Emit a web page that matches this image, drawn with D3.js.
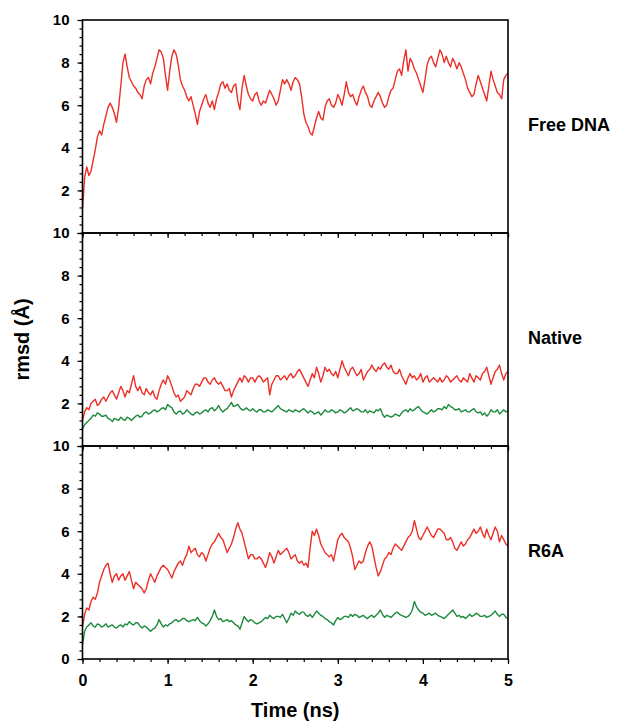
<!DOCTYPE html>
<html>
<head>
<meta charset="utf-8">
<script src="https://cdn.jsdelivr.net/npm/d3@7"></script>
<style>
  body { margin: 0; background: #fff; }
  svg { font-family: Arial, "Liberation Sans", sans-serif; }
  .axis text { font-weight: bold; fill: #000; }
  .axis line { stroke: #000; stroke-width: 1.2; }
  .frame { fill: none; stroke: #000; stroke-width: 1.6; }
  .trace { fill: none; stroke-width: 1.4; stroke-linejoin: round; }
  .label { font-weight: bold; fill: #000; }
</style>
</head>
<body>
<svg id="chart"></svg>
<script>
// sampling interval of the traces (ns)
const timeStep = 0.025;

const freeDnaRed = [
  1.1, 2.6, 3.1, 2.7, 2.9, 3.4, 3.9, 4.5, 4.8, 4.6, 5.1, 5.5, 5.9, 6.1, 5.9, 5.6, 5.2, 5.9, 6.9, 8.0,
  8.4, 7.8, 7.3, 7.1, 6.9, 6.8, 6.6, 6.5, 6.3, 6.9, 7.2, 7.3, 7.0, 7.5, 7.8, 8.2, 8.6, 8.5, 8.2, 7.4,
  6.7, 7.6, 8.3, 8.6, 8.4, 7.9, 7.2, 6.9, 6.7, 6.4, 6.2, 6.4, 6.0, 5.6, 5.1, 5.7, 6.0, 6.3, 6.5, 6.1,
  5.9, 6.2, 5.8, 6.3, 6.6, 7.0, 7.1, 6.8, 7.0, 6.7, 6.6, 6.9, 7.0, 6.2, 5.8, 6.8, 7.4, 6.9, 6.5, 6.3,
  6.2, 6.5, 6.6, 6.2, 6.0, 6.2, 6.1, 6.4, 6.7, 6.5, 6.3, 6.0, 6.2, 6.7, 7.2, 7.0, 7.2, 7.0, 6.7, 7.1,
  7.3, 7.2, 7.0, 6.4, 5.6, 5.2, 5.0, 4.7, 4.6, 5.0, 5.4, 5.7, 5.4, 5.3, 5.9, 6.2, 6.3, 6.0, 5.9, 6.1,
  6.5, 6.3, 6.0, 6.5, 7.1, 6.6, 6.4, 6.5, 6.2, 6.0, 6.4, 6.7, 6.9, 6.6, 6.4, 6.0, 5.9, 6.2, 6.4, 6.6,
  6.4, 6.1, 5.9, 6.0, 6.4, 6.7, 6.8, 7.2, 7.6, 7.7, 7.4, 8.1, 8.6, 7.6, 8.2, 8.0, 7.7, 7.5, 7.2, 6.9,
  6.6, 7.2, 7.9, 8.2, 8.3, 8.0, 7.8, 8.2, 8.6, 8.4, 8.0, 8.3, 8.0, 7.8, 8.2, 8.0, 7.7, 8.0, 7.8, 7.5,
  7.2, 6.8, 6.6, 6.4, 6.5, 7.0, 7.4, 7.1, 6.8, 6.5, 6.2, 6.9, 7.6, 7.2, 6.9, 6.6, 6.5, 6.3, 7.2, 7.4,
  7.5];

const nativeRed = [
  1.2, 1.6, 1.8, 1.7, 2.0, 2.1, 2.2, 1.9, 2.0, 2.2, 2.3, 2.1, 2.3, 2.5, 2.6, 2.4, 2.2, 2.5, 2.8, 2.6,
  2.3, 2.6, 2.5, 2.9, 3.3, 2.8, 2.6, 2.8, 2.5, 2.4, 2.7, 2.5, 2.4, 2.6, 2.3, 2.2, 2.6, 2.9, 3.1, 2.9,
  3.3, 3.1, 2.8, 2.5, 2.3, 2.4, 2.1, 2.2, 2.3, 2.6, 2.5, 2.4, 2.7, 2.9, 2.9, 2.8, 3.0, 3.2, 3.2, 3.0,
  2.9, 3.1, 3.2, 3.0, 2.9, 3.0, 2.8, 2.6, 2.6, 2.7, 2.3, 2.6, 2.8, 3.0, 3.2, 3.0, 3.3, 3.2, 3.0, 3.2,
  3.2, 3.0, 3.2, 3.3, 3.2, 3.0, 3.1, 3.2, 2.4, 2.9, 3.1, 3.3, 3.3, 3.1, 3.2, 3.3, 3.1, 3.3, 3.4, 3.2,
  3.3, 3.5, 3.6, 3.4, 3.2, 3.0, 2.8, 3.1, 3.4, 3.2, 3.7, 3.4, 3.0, 3.3, 3.7, 3.5, 3.6, 3.4, 3.3, 3.5,
  3.2, 3.6, 4.0, 3.7, 3.5, 3.3, 3.6, 3.7, 3.5, 3.3, 3.4, 3.6, 3.1, 3.3, 3.5, 3.6, 3.8, 3.6, 3.5, 3.7,
  3.6, 3.8, 3.9, 3.7, 3.6, 3.8, 3.5, 3.4, 3.4, 3.6, 3.3, 3.1, 2.9, 3.2, 3.4, 3.2, 3.3, 3.1, 3.2, 3.4,
  3.0, 3.2, 3.3, 3.0, 3.1, 3.2, 3.1, 3.0, 3.2, 3.0, 3.1, 3.3, 3.2, 3.0, 3.1, 3.2, 3.3, 3.1, 3.0, 3.2,
  3.1, 3.0, 3.4, 3.2, 3.0, 3.3, 3.2, 3.1, 3.4, 3.5, 3.7, 3.3, 2.9, 3.2, 3.5, 3.6, 3.8, 3.4, 3.1, 3.4,
  3.5];

const nativeGreen = [
  0.8, 1.0, 1.1, 1.2, 1.3, 1.45, 1.4, 1.55, 1.5, 1.4, 1.4, 1.45, 1.3, 1.25, 1.15, 1.3, 1.25, 1.2, 1.35, 1.25,
  1.2, 1.35, 1.3, 1.2, 1.3, 1.4, 1.45, 1.35, 1.4, 1.55, 1.6, 1.5, 1.55, 1.65, 1.7, 1.6, 1.65, 1.75, 1.8, 1.7,
  1.95, 1.85, 1.8, 1.6, 1.5, 1.6, 1.65, 1.5, 1.55, 1.7, 1.6, 1.5, 1.45, 1.55, 1.6, 1.5, 1.55, 1.65, 1.7, 1.6,
  1.75, 1.8, 1.65, 1.75, 1.9, 1.7, 1.6, 1.7, 1.75, 1.9, 2.05, 1.85, 1.9, 1.95, 1.8, 1.7, 1.7, 1.8, 1.7, 1.65,
  1.75, 1.65, 1.6, 1.7, 1.7, 1.6, 1.6, 1.7, 1.65, 1.6, 1.7, 1.8, 1.9, 1.75, 1.7, 1.65, 1.6, 1.7, 1.65, 1.6,
  1.7, 1.65, 1.6, 1.7, 1.75, 1.65, 1.55, 1.65, 1.6, 1.5, 1.55, 1.6, 1.45, 1.55, 1.7, 1.6, 1.6, 1.7, 1.65, 1.55,
  1.6, 1.7, 1.65, 1.55, 1.6, 1.7, 1.8, 1.65, 1.7, 1.75, 1.7, 1.6, 1.6, 1.7, 1.55, 1.65, 1.6, 1.55, 1.7, 1.65,
  1.75, 1.5, 1.35, 1.45, 1.4, 1.35, 1.4, 1.5, 1.45, 1.4, 1.55, 1.65, 1.7, 1.6, 1.75, 1.65, 1.7, 1.8, 1.85, 1.7,
  1.6, 1.55, 1.5, 1.6, 1.7, 1.6, 1.65, 1.75, 1.75, 1.7, 1.85, 1.75, 1.95, 1.85, 1.8, 1.7, 1.7, 1.75, 1.6, 1.65,
  1.7, 1.6, 1.6, 1.7, 1.75, 1.6, 1.55, 1.6, 1.45, 1.55, 1.4, 1.5, 1.7, 1.6, 1.6, 1.7, 1.5, 1.6, 1.7, 1.6,
  1.65];

const r6aRed = [
  1.5, 2.1, 2.4, 2.3, 2.7, 2.9, 2.8, 3.1, 3.6, 3.9, 4.2, 4.4, 4.5, 4.0, 3.6, 3.9, 4.0, 3.7, 3.9, 4.0,
  3.7, 3.9, 4.1, 3.7, 3.3, 3.6, 3.5, 3.4, 3.3, 3.1, 3.3, 3.7, 4.0, 3.8, 3.6, 3.9, 4.1, 4.3, 4.4, 4.3,
  4.2, 4.0, 3.8, 4.1, 4.3, 4.5, 4.6, 4.4, 4.7, 4.9, 5.3, 5.0, 5.1, 5.2, 4.9, 4.8, 5.0, 4.9, 4.6, 4.9,
  5.2, 5.4, 5.5, 5.7, 5.9, 5.7, 5.6, 5.3, 5.0, 5.2, 5.4, 5.7, 6.1, 6.4, 6.1, 5.9, 5.5, 5.1, 4.7, 4.9,
  4.9, 4.7, 4.7, 4.8, 4.7, 4.5, 4.3, 4.6, 5.0, 4.8, 4.5, 4.8, 5.1, 4.9, 5.0, 5.1, 5.2, 5.0, 4.7, 4.8,
  4.9, 4.6, 4.5, 4.6, 4.4, 4.5, 4.3, 5.2, 6.0, 5.8, 6.1, 5.8, 5.4, 5.2, 5.0, 4.9, 4.8, 4.9, 4.6, 5.1,
  5.6, 5.8, 5.9, 5.7, 5.6, 5.5, 5.2, 4.8, 4.2, 4.4, 4.6, 4.5, 4.6, 5.0, 5.3, 5.5, 5.3, 4.8, 4.3, 3.9,
  4.1, 4.4, 4.7, 4.8, 5.0, 4.9, 5.2, 5.4, 5.3, 5.2, 5.1, 5.3, 5.5, 5.7, 5.8, 6.0, 6.5, 6.1, 5.7, 5.6,
  5.8, 6.0, 6.2, 6.0, 5.8, 5.7, 5.9, 6.1, 6.1, 6.0, 5.9, 5.6, 5.6, 5.7, 5.5, 5.2, 5.1, 5.3, 5.5, 5.3,
  5.4, 5.6, 5.7, 5.9, 6.1, 5.9, 6.0, 6.2, 5.9, 5.7, 6.1, 5.8, 5.6, 5.9, 6.2, 6.0, 5.5, 5.8, 5.6, 5.4,
  5.3];

const r6aGreen = [
  0.7, 1.3, 1.5, 1.6, 1.7, 1.55, 1.5, 1.65, 1.6, 1.5, 1.55, 1.65, 1.5, 1.55, 1.6, 1.5, 1.45, 1.55, 1.6, 1.5,
  1.65, 1.6, 1.75, 1.65, 1.6, 1.7, 1.7, 1.55, 1.45, 1.55, 1.5, 1.4, 1.3, 1.4, 1.45, 1.6, 1.85, 1.65, 1.5, 1.6,
  1.55, 1.65, 1.7, 1.8, 1.85, 1.75, 1.8, 1.9, 1.9, 1.8, 1.75, 1.8, 1.85, 1.8, 1.95, 1.8, 1.7, 1.65, 1.55, 1.65,
  1.8, 2.0, 2.3, 2.0, 1.85, 1.9, 1.75, 1.8, 1.85, 1.75, 1.8, 1.7, 1.6, 1.55, 1.4, 1.7, 2.0, 1.85, 1.75, 1.85,
  1.8, 1.7, 1.65, 1.7, 1.75, 1.85, 1.95, 1.9, 2.05, 1.95, 1.9, 2.0, 2.0, 1.95, 2.1, 1.9, 1.7, 1.9, 2.15, 2.05,
  2.25, 2.15, 2.1, 2.2, 2.2, 2.05, 2.0, 2.1, 1.95, 2.1, 2.25, 2.15, 2.05, 2.0, 1.9, 1.85, 1.75, 1.7, 1.6, 1.8,
  1.95, 1.85, 1.9, 2.0, 2.0, 1.95, 2.1, 2.0, 2.1, 2.05, 1.95, 2.0, 2.05, 1.95, 1.9, 2.0, 2.05, 1.95, 2.05, 2.15,
  2.3, 2.1, 1.95, 2.05, 2.0, 1.95, 2.05, 2.15, 2.2, 2.1, 2.05, 2.0, 1.95, 2.0, 2.1, 2.3, 2.7, 2.45, 2.3, 2.2,
  2.15, 2.05, 2.1, 2.15, 2.05, 2.1, 2.15, 2.05, 2.0, 1.95, 1.9, 2.0, 2.1, 2.2, 2.3, 2.15, 2.0, 2.05, 1.95, 2.0,
  1.9, 2.0, 2.1, 2.0, 2.05, 2.15, 2.1, 2.0, 2.0, 2.05, 1.95, 2.0, 2.05, 2.15, 2.25, 2.1, 2.0, 2.1, 2.1, 1.95,
  1.9];

const panelNames = ['Free DNA', 'Native', 'R6A'];
const panelSeries = [
  [freeDnaRed],
  [nativeRed, nativeGreen],
  [r6aRed, r6aGreen]
];
const seriesColors = ['#ec2f27', '#1b8a3c'];
const yTickValues = [0, 2, 4, 6, 8, 10];
const yMinorValues = [0, 0.4, 0.8, 1.2, 1.6, 2, 2.4, 2.8, 3.2, 3.6, 4, 4.4, 4.8, 5.2, 5.6, 6, 6.4, 6.8, 7.2, 7.6, 8, 8.4, 8.8, 9.2, 9.6, 10];
const xTickValues = [0, 1, 2, 3, 4, 5];
const xMinorValues = [0, 0.2, 0.4, 0.6, 0.8, 1, 1.2, 1.4, 1.6, 1.8, 2, 2.2, 2.4, 2.6, 2.8, 3, 3.2, 3.4, 3.6, 3.8, 4, 4.2, 4.4, 4.6, 4.8, 5];

class RmsdPanel {

  constructor(_config, _series) {
    this.config = {
      parentElement: _config.parentElement,
      top: _config.top,
      width: _config.width,
      height: _config.height,
      left: _config.left,
      name: _config.name,
      showZero: _config.showZero,
      showXLabels: _config.showXLabels
    }
    this.series = _series;
    this.initVis();
  }

  initVis() {
    let vis = this;

    vis.xScale = d3.scaleLinear()
      .domain([0, 5])
      .range([0, vis.config.width]);

    vis.yScale = d3.scaleLinear()
      .domain([0, 10])
      .range([vis.config.height, 0]);

    vis.chart = vis.config.parentElement.append('g')
      .attr('transform', `translate(${vis.config.left},${vis.config.top})`);

    vis.line = d3.line()
      .x((d, i) => vis.xScale(i * timeStep))
      .y(d => vis.yScale(d));

    vis.renderVis();
  }

  renderVis() {
    let vis = this;

    // traces (drawn in reverse so red sits on top of green)
    vis.chart.selectAll('.trace')
      .data(vis.series.map((s, i) => ({values: s, color: seriesColors[i]})).reverse())
      .join('path')
      .attr('class', 'trace')
      .attr('stroke', d => d.color)
      .attr('d', d => vis.line(d.values));

    // minor ticks
    vis.chart.append('g')
      .attr('class', 'axis')
      .call(d3.axisLeft(vis.yScale).tickValues(yMinorValues).tickSize(3).tickFormat(''))
      .call(g => g.select('.domain').remove());

    vis.chart.append('g')
      .attr('class', 'axis')
      .attr('transform', `translate(0,${vis.config.height})`)
      .call(d3.axisBottom(vis.xScale).tickValues(xMinorValues).tickSize(3).tickFormat(''))
      .call(g => g.select('.domain').remove());

    // major ticks with labels
    const yLabels = vis.config.showZero ? yTickValues : yTickValues.filter(d => d !== 0);
    vis.chart.append('g')
      .attr('class', 'axis')
      .style('font-size', '15px')
      .call(d3.axisLeft(vis.yScale).tickValues(yTickValues).tickSize(5).tickPadding(8)
        .tickFormat(d => yLabels.includes(d) ? d : ''))
      .call(g => g.select('.domain').remove())
      .call(g => g.selectAll('text').attr('font-family', null).attr('font-size', null));

    vis.chart.append('g')
      .attr('class', 'axis')
      .attr('transform', `translate(0,${vis.config.height})`)
      .style('font-size', '16px')
      .call(d3.axisBottom(vis.xScale).tickValues(xTickValues).tickSize(5).tickPadding(11)
        .tickFormat(d => vis.config.showXLabels ? d : ''))
      .call(g => g.select('.domain').remove())
      .call(g => g.selectAll('text').attr('font-family', null).attr('font-size', null));

    vis.chart.append('rect')
      .attr('class', 'frame')
      .attr('width', vis.config.width)
      .attr('height', vis.config.height);

    vis.chart.append('text')
      .attr('class', 'label')
      .attr('x', vis.config.width + 20)
      .attr('y', vis.yScale(5.1))
      .attr('dy', '0.35em')
      .style('font-size', '18px')
      .text(vis.config.name);
  }
}

const svg = d3.select('#chart')
  .attr('width', 629)
  .attr('height', 722);

const panelLeft = 82.5;
const panelWidth = 425.5;
const panelHeight = 213;
const panelTop = 20;

panelNames.forEach((name, i) => {
  new RmsdPanel({
    parentElement: svg,
    top: panelTop + i * panelHeight,
    left: panelLeft,
    width: panelWidth,
    height: panelHeight,
    name: name,
    showZero: i === panelNames.length - 1,
    showXLabels: i === panelNames.length - 1
  }, panelSeries[i]);
});

svg.append('text')
  .attr('class', 'label')
  .attr('x', panelLeft + panelWidth / 2)
  .attr('y', 717)
  .attr('text-anchor', 'middle')
  .style('font-size', '20px')
  .text('Time (ns)');

svg.append('text')
  .attr('class', 'label')
  .attr('transform', `translate(29,${panelTop + panelHeight * 1.5}) rotate(-90)`)
  .attr('text-anchor', 'middle')
  .style('font-size', '20px')
  .text('rmsd (Å)');
</script>
</body>
</html>
